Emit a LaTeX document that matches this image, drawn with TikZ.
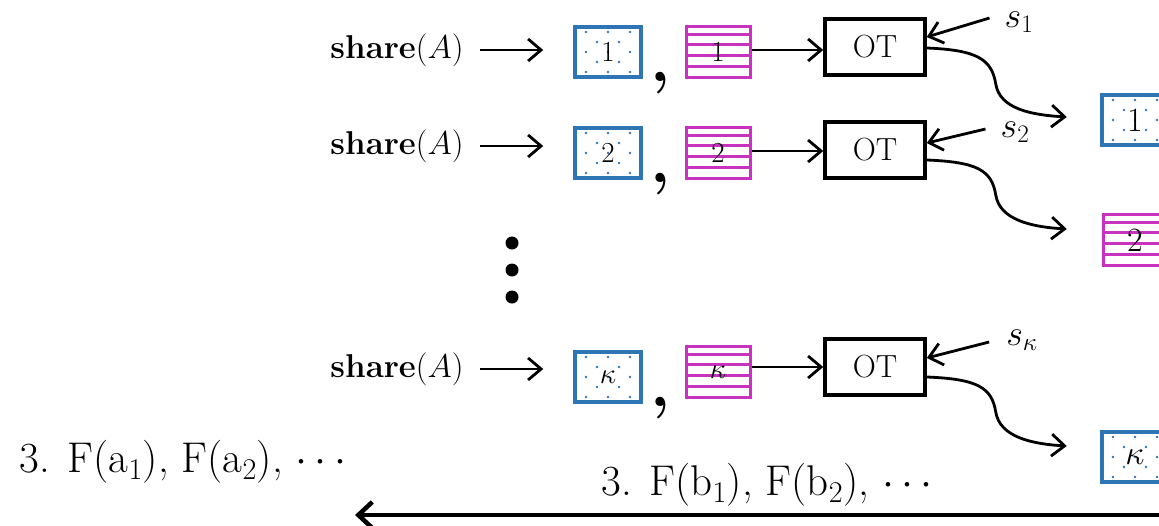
\RequirePackage{fix-cm}
\documentclass[tikz,border=0pt]{standalone}
\usetikzlibrary{arrows.meta,calc}
\definecolor{sblue}{RGB}{46,117,182}
\definecolor{smag}{RGB}{200,50,190}
\newcommand{\fsz}[1]{\fontsize{#1}{#1}\selectfont}
\tikzset{
  arr/.style={line width=2.8pt,-{Straight Barb[length=13pt,width=22pt]}},
  bigarr/.style={line width=4.5pt,-{Straight Barb[length=14pt,width=26pt]}},
  sharelab/.style={inner sep=0pt,font=\fsz{33}},
  slab/.style={inner sep=0pt,font=\fsz{36}},
  otbox/.style={draw,line width=3.5pt,minimum width=100pt,minimum height=56pt,inner sep=0pt,font=\fsz{32}},
  bluebox/.style={draw=sblue,line width=3.5pt,minimum width=66pt,minimum height=50pt,inner sep=0pt,font=\fsz{29},
    path picture={
      \foreach \r in {5,25,45}{\foreach \c in {11,33,55}{
        \fill[sblue] ($(path picture bounding box.north west)+(\c,\r)$) circle (1.4pt);}}
      \foreach \r in {15,35}{\foreach \c in {22,44}{
        \fill[sblue] ($(path picture bounding box.north west)+(\c,\r)$) circle (1.4pt);}}
    }},
  magbox/.style={draw=smag,line width=3pt,minimum width=64pt,minimum height=51pt,inner sep=0pt,font=\fsz{29},
    path picture={
      \foreach \r in {8,18,29,40}{
        \draw[smag,line width=2.4pt] ($(path picture bounding box.north west)+(0,\r)$) -- ++(80,0);}
    }},
  commalab/.style={inner sep=0pt,anchor=north,font=\fsz{64}\bfseries},
  bottomlab/.style={inner sep=0pt,font=\fsz{43}},
}
\begin{document}
\begin{tikzpicture}[x=1pt,y=-1pt]
\useasboundingbox (0,0) rectangle (1159,525);
\clip (0,0) rectangle (1159,525);

% ---- row 1
\node[sharelab] (sh1) at (397,50) {\textbf{share}$(A)$};
\node[bluebox] (b1) at (608,52) {1};
\node[commalab] (c1) at (661,72) {,};
\node[magbox] (m1) at (718,52) {1};
\node[otbox] (ot1) at (875,47) {OT};
\node[slab] (s1) at (1019,22) {$s_1$};
\node[bluebox,font=\fsz{34}] (r1) at (1135,120) {1};
\draw[arr,shorten <=16pt,shorten >=30pt] (sh1.east) -- (sh1.east -| b1.west);
\draw[arr] (m1.east |- 0,50) -- (ot1.west |- 0,50);
\draw[arr] ($(s1.west)+(-15,-4)$) -- ($(ot1.east)+(0,-10)$);
\draw[arr] ($(ot1.east)+(0,1)$) .. controls +(50,2) and +(-4,-25) .. ++(69,36)
  .. controls +(4,25) and +(-35,-2) .. ++(71,33);

% ---- row 2
\node[sharelab] (sh2) at (397,146) {\textbf{share}$(A)$};
\node[bluebox] (b2) at (608,153) {2};
\node[commalab] (c2) at (661,173) {,};
\node[magbox] (m2) at (718,153) {2};
\node[otbox] (ot2) at (875,150) {OT};
\node[slab] (s2) at (1015,132) {$s_2$};
\node[magbox,font=\fsz{34}] (r2) at (1135,240) {2};
\draw[arr,shorten <=16pt,shorten >=30pt] (sh2.east) -- (sh2.east -| b2.west);
\draw[arr] (m2.east |- 0,151) -- (ot2.west |- 0,151);
\draw[arr] ($(s2.west)+(-15,-3)$) -- ($(ot2.east)+(0,-7)$);
\draw[arr] ($(ot2.east)+(0,10)$) .. controls +(50,2) and +(-4,-25) .. ++(69,35)
  .. controls +(4,25) and +(-35,-2) .. ++(71,34);

% ---- dots
\fill (512,243) circle (6.5pt);
\fill (512,270) circle (6.5pt);
\fill (512,297) circle (6.5pt);

% ---- row kappa
\node[sharelab] (sh3) at (397,369) {\textbf{share}$(A)$};
\node[bluebox] (b3) at (608,377) {$\kappa$};
\node[commalab] (c3) at (661,397) {,};
\node[magbox] (m3) at (718,372) {$\kappa$};
\node[otbox] (ot3) at (875,367) {OT};
\node[slab] (s3) at (1022,340) {$s_\kappa$};
\node[bluebox,font=\fsz{34}] (r3) at (1135,457) {$\kappa$};
\draw[arr,shorten <=16pt,shorten >=30pt] (sh3.east) -- (sh3.east -| b3.west);
\draw[arr] (m3.east |- 0,367) -- (ot3.west |- 0,367);
\draw[arr] ($(s3.west)+(-17,2)$) -- ($(ot3.east)+(0,-9)$);
\draw[arr] ($(ot3.east)+(0,10)$) .. controls +(50,2) and +(-4,-25) .. ++(69,35)
  .. controls +(4,25) and +(-35,-2) .. ++(71,34);

% ---- bottom
\node[bottomlab] (fa) at (183,462) {3. F(a$_1$), F(a$_2$), $\cdots$};
\node[bottomlab] (fb) at (767,485) {3. F(b$_1$), F(b$_2$), $\cdots$};
\coordinate (bs) at (1170,515);
\coordinate (be) at (355,515);
\draw[bigarr] (bs) -- (be);
\end{tikzpicture}
\end{document}
